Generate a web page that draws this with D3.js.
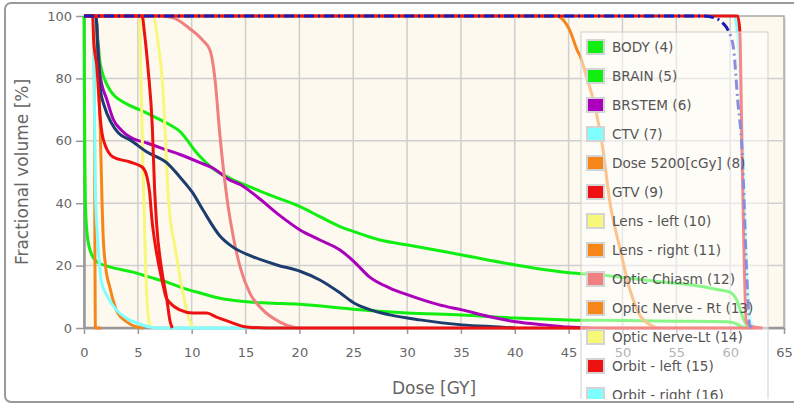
<!DOCTYPE html>
<html><head><meta charset="utf-8">
<script src="https://cdn.jsdelivr.net/npm/d3@7"></script>
<style>
html,body{margin:0;padding:0;background:#fff;}
svg{display:block;font-family:"DejaVu Sans",sans-serif;}
</style>
</head><body>
<svg id="chart" width="794" height="406"></svg>
<script>
// ---------- tick labels / titles ----------
const xTicks = [0,5,10,15,20,25,30,35,40,45,50,55,60,65];
const yTicks = [0,20,40,60,80,100];
const xTitle = "Dose [GY]";
const yTitle = "Fractional volume [%]";

// ---------- legend (visible part) ----------
const legendNames  = ["BODY (4)","BRAIN (5)","BRSTEM (6)","CTV (7)","Dose 5200[cGy] (8)","GTV (9)",
  "Lens - left (10)","Lens - right (11)","Optic Chiasm (12)","Optic Nerve - Rt (13)",
  "Optic Nerve-Lt (14)","Orbit - left (15)","Orbit - right (16)"];
const legendColors = ["#11ee11","#11ee11","#aa00bb","#80ffff","#f7861a","#ee1111",
  "#f7f77a","#f7861a","#f08080","#f7861a","#f7f77a","#ee1111","#80ffff"];

// ---------- series: [dose (Gy), volume (%)] ----------
const BODY = [[0,100],[0.03,80],[0.08,55],[0.12,41],[0.28,30.4],[0.56,25],[1.2,21.2],[2.4,19.6],[4.55,17.9],[6.1,16.3],[7.7,14.7],[9.2,12.8],[10.8,11.2],[12.3,9.8],[13.8,8.9],[15.4,8.3],[17,8],[20,7.6],[25,6],[30,4.8],[35,4.2],[40,3.2],[45,2.6],[50,2.4],[55,2.2],[59.7,2],[60.5,1.5],[61,0.5],[61.5,0]];
const BRAIN = [[0,100],[1.1,100],[1.3,92],[1.49,85],[2.41,76.3],[3.81,72.1],[5.2,69.9],[6.59,67.6],[7.5,66],[8.9,63],[10.5,56],[12.0,51],[13.56,48],[15.41,45.2],[17.27,42.6],[20.06,38.9],[21.9,35.7],[23.77,32.5],[25.07,30.9],[27.48,28.2],[30.08,26.6],[35.1,23.4],[40.1,20.2],[45.03,17.7],[47.9,17],[53.5,14.8],[56.5,13.8],[59.05,12.2],[59.98,11.5],[60.6,9],[61.1,4.2],[61.4,1.6],[61.8,0]];
const BRSTEM = [[0,100],[1.1,100],[1.3,90],[1.49,81],[2.14,73],[2.7,67],[3.5,63.3],[4.27,61.2],[5.85,59.3],[7.06,57.8],[8.9,55.6],[10.77,53],[12.0,51.2],[13.56,47.4],[14.5,46],[16.1,42],[18.2,36],[20.06,31.4],[21.9,28.2],[23.77,25],[25.07,21.3],[26.5,16.4],[28.4,12.8],[30.08,10.6],[33,7.4],[35.1,5.8],[37.7,3.6],[40.1,2],[42.8,1],[45,0.3],[47,0]];
const CTV = [[0,100],[60.4,100],[60.8,88],[61.2,55],[61.6,15],[61.9,2],[62.3,0]];
const DOSE5200 = [[0,100],[43.9,100],[44.5,98.7],[45.1,95.5],[45.8,89],[46.1,86.9],[46.7,80],[47.3,73],[48.2,57],[48.8,41],[49.8,25],[50.7,12.2],[51.6,4.2],[52.6,1],[53.2,0]];
const GTV = [[0,100],[60.7,100],[60.9,95],[61.1,57],[61.5,2],[62,0.5],[63,0]];
const LENS_L = [[0,100],[5.15,100],[5.3,78],[5.45,55],[5.6,35],[5.72,20],[5.85,9],[6.0,3],[6.15,0]];
const LENS_R = [[0,100],[0.93,100],[0.98,60],[1.02,20],[1.06,0],[1.6,0]];
const CHIASM = [[0,100],[7.1,100],[8.3,99.4],[9.8,96],[11.0,92.3],[11.7,89],[12.2,78.5],[12.6,62.5],[13.3,41],[13.8,30.4],[14.5,19.5],[15.4,11.2],[16.6,5.8],[18.2,1.9],[19.4,0.3],[20,0]];
const ON_RT = [[0,100],[1.1,100],[1.3,85],[1.5,65],[1.67,41],[1.76,31],[2.0,20],[2.4,13],[3.1,5],[4,1.9],[4.9,0.3],[5.5,0]];
const ON_LT = [[0,100],[6.4,100],[6.9,91],[7.3,78],[7.55,62],[7.85,41],[8.5,25],[9.2,11],[9.8,2.6],[10.1,0]];
const ORBIT_L = [[0,100],[5.4,100],[5.6,95],[5.95,83],[6.35,64],[6.55,45],[6.75,33],[7.2,19],[7.7,9],[8.0,2],[8.2,0]];
const ORBIT_R = [[0,100],[0.88,100],[0.95,80],[1.0,60],[1.05,45],[1.2,32],[1.4,22],[1.6,15],[2.2,10],[3.0,5.8],[4.0,3],[4.9,1.6],[6.3,0.2],[7,0],[20,0]];
// structures whose legend rows lie below the visible area
const EXTRA_RED = [[0,100],[0.8,100],[0.9,92],[1.2,83.6],[1.5,67.6],[1.8,60.3],[2.7,54.8],[4.27,53.2],[5.4,51.6],[5.85,48.4],[6.1,43.3],[6.3,35],[6.6,27],[6.9,21],[7.3,14.4],[7.6,10],[8.0,8],[8.9,5.8],[10.1,4.8],[11.4,4.8],[12.3,3.5],[13.6,1.9],[15.1,0.3],[17,0],[62.5,0]];
const EXTRA_NAVY = [[0,100],[1.1,100],[1.3,88],[1.49,77],[1.9,71],[2.5,66],[3.2,62.5],[4.27,60.3],[5.85,56.4],[7.7,52.9],[8.9,48.4],[10.1,43.3],[11.05,37.8],[12.6,29.6],[13.8,26],[15.7,22.8],[17.9,20.2],[20.06,18.2],[21.9,15.4],[23.8,11.2],[25.07,8],[26.6,5.8],[28.4,4.2],[31.2,2.6],[35.1,1],[38.6,0.3],[40,0]];
const EXTRA_BLUE = [[0,100],[57.5,100],[58.5,99.5],[59.3,97.8],[59.8,95.5],[60.3,90],[60.7,73],[61.1,57],[61.3,40],[61.45,25],[61.65,9],[61.8,1],[62,0]];

const series = [
  {data: BODY, color: legendColors[0]},
  {data: BRAIN, color: legendColors[1]},
  {data: BRSTEM, color: legendColors[2]},
  {data: CTV, color: legendColors[3]},
  {data: DOSE5200, color: legendColors[4]},
  {data: LENS_L, color: legendColors[6]},
  {data: LENS_R, color: legendColors[7]},
  {data: CHIASM, color: legendColors[8]},
  {data: ON_RT, color: legendColors[9]},
  {data: ON_LT, color: legendColors[10]},
  {data: ORBIT_R, color: legendColors[12]},
  {data: EXTRA_NAVY, color: "#1c3d6e"},
  {data: ORBIT_L, color: legendColors[11]},
  {data: EXTRA_RED, color: "#ee1111"},
  {data: GTV, color: legendColors[5]},
  {data: EXTRA_BLUE, color: "#1a1ab8", dash: "10,4,2,4"}
];

// ---------- layout ----------
const W = 794, H = 406;
const L = 84, R = 784, T = 16, B = 328;
const svg = d3.select("#chart");
const x = d3.scaleLinear().domain([0,65]).range([L,R]);
const y = d3.scaleLinear().domain([0,100]).range([B,T]);

svg.append("defs").append("clipPath").attr("id","frameClip")
  .append("rect").attr("x",5).attr("y",3).attr("width",W).attr("height",396);

// outer frame
svg.append("rect").attr("x",5).attr("y",3).attr("width",W+20).attr("height",399)
  .attr("rx",6).attr("fill","#fff").attr("stroke","#9a9a9a").attr("stroke-width",2);

// plot background + shadow
svg.append("rect").attr("x",L+2).attr("y",T+2).attr("width",R-L).attr("height",B-T)
  .attr("fill","#e4e4e4");
svg.append("rect").attr("x",L).attr("y",T).attr("width",R-L).attr("height",B-T)
  .attr("fill","#fdf9ef").attr("stroke","#a8a8a8").attr("stroke-width",1.5);

// grid
const g = svg.append("g");
g.selectAll(".vg").data(xTicks.filter(d=>d>0&&d<65)).join("line")
  .attr("x1",d=>x(d)).attr("x2",d=>x(d)).attr("y1",T).attr("y2",B)
  .attr("stroke","#cfcfcf").attr("stroke-width",1.5);
g.selectAll(".hg").data(yTicks.filter(d=>d>0&&d<100)).join("line")
  .attr("x1",L).attr("x2",R).attr("y1",d=>y(d)).attr("y2",d=>y(d))
  .attr("stroke","#cfcfcf").attr("stroke-width",1.5);

// axes
const xAxis = svg.append("g").attr("transform",`translate(0,${B})`)
  .call(d3.axisBottom(x).tickValues(xTicks).tickSize(6).tickPadding(14).tickSizeOuter(0));
const yAxis = svg.append("g").attr("transform",`translate(${L},0)`)
  .call(d3.axisLeft(y).tickValues(yTicks).tickSize(8).tickPadding(4).tickSizeOuter(0));
[xAxis,yAxis].forEach(a=>{
  a.select(".domain").attr("stroke","#999").attr("stroke-width",2.5);
  a.selectAll(".tick line").attr("stroke","#999").attr("stroke-width",1.5);
  a.selectAll("text").attr("fill","#666").attr("font-size",13).attr("font-family","DejaVu Sans");
});
xAxis.select(".domain").attr("d",`M${L},0H${R}`);

// lines
const line = d3.line().x(d=>x(d[0])).y(d=>y(d[1])).curve(d3.curveMonotoneX);
svg.append("g").selectAll("path").data(series).join("path")
  .attr("d",d=>line(d.data)).attr("fill","none")
  .attr("stroke",d=>d.color).attr("stroke-width",3)
  .attr("stroke-linejoin","round")
  .attr("stroke-dasharray",d=>d.dash||null);

// axis titles
svg.append("text").attr("x",(L+R)/2).attr("y",394).attr("text-anchor","middle")
  .attr("font-size",17).attr("fill","#666").text(xTitle);
svg.append("text").attr("transform",`translate(28,${(T+B)/2}) rotate(-90)`).attr("text-anchor","middle")
  .attr("font-size",17).attr("fill","#666").text(yTitle);

// legend
const lg = svg.append("g").attr("clip-path","url(#frameClip)");
lg.append("rect").attr("x",581).attr("y",32).attr("width",187).attr("height",400)
  .attr("fill","#fff").attr("fill-opacity",0.5).attr("stroke","#cfcfcf").attr("stroke-width",1);
const items = lg.selectAll(".item").data(legendNames).join("g")
  .attr("transform",(d,i)=>`translate(587,${47+i*29})`);
items.append("rect").attr("x",0).attr("y",-7).attr("width",17).attr("height",14)
  .attr("fill",(d,i)=>legendColors[i]).attr("stroke","#d4d4d4").attr("stroke-width",2);
items.append("text").attr("x",25).attr("y",5).attr("font-size",13.6).attr("fill","#555").text(d=>d);
</script>
</body></html>
